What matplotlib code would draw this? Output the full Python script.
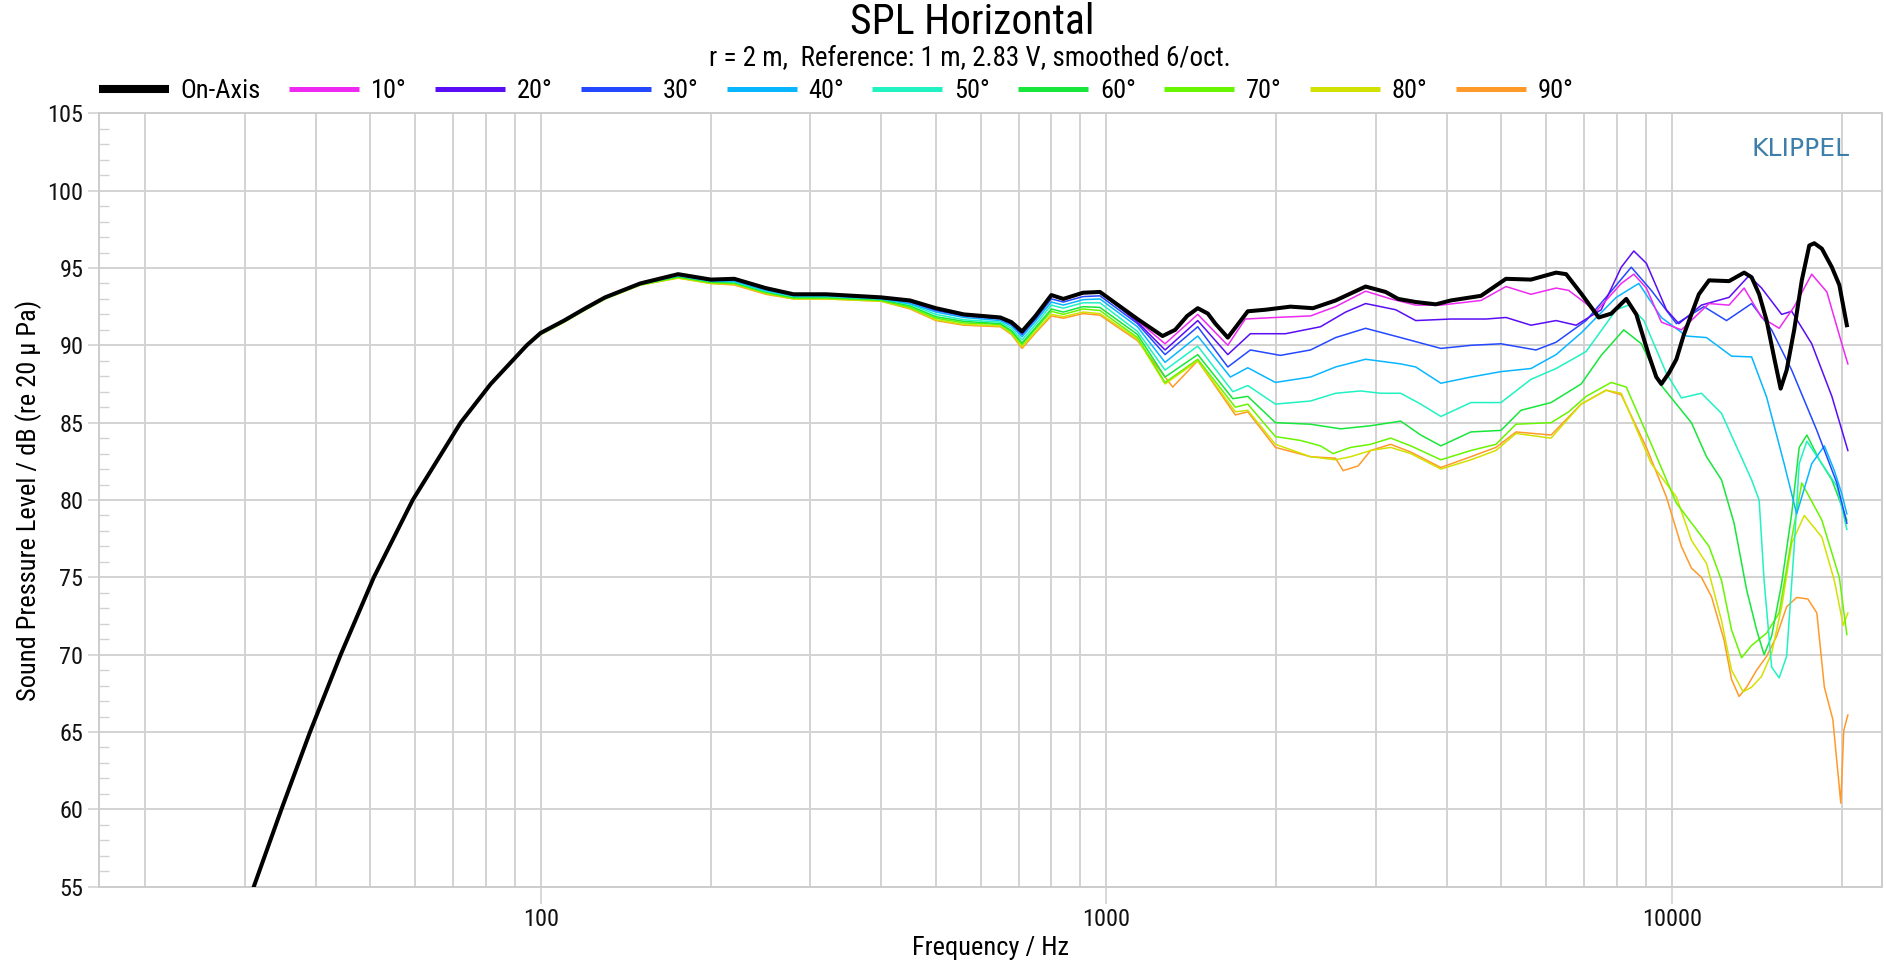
import matplotlib
matplotlib.use("Agg")
import matplotlib.pyplot as plt
from matplotlib.lines import Line2D
from matplotlib.ticker import FixedLocator, NullFormatter, FixedFormatter

FONT = ['Roboto Condensed', 'Liberation Sans', 'DejaVu Sans']
plt.rcParams['font.family'] = FONT

# ---------------- data ----------------
labels = ["On-Axis", "10°", "20°", "30°", "40°", "50°", "60°", "70°", "80°", "90°"]
colors = ["#000000", "#ee2af2", "#5a0cf5", "#2448ff", "#08b6ff", "#20f2c2",
          "#18e63a", "#68f500", "#d2e200", "#ff9a2a"]

# below 100 Hz all angles coincide
f_lf = [28, 31.1, 34.8, 39.1, 44.3, 50.7, 59.4, 72.2, 81.6, 94.5]
db_lf = [49.5, 55.0, 60.0, 65.0, 70.0, 75.0, 80.0, 85.0, 87.5, 90.0]

f_mid = [100, 110, 120, 130, 150, 175, 200, 220, 250, 280, 320, 400, 450, 500, 560, 650, 680,
         710, 750, 800, 840, 910, 975]
db_mid_0 = [90.8, 91.6, 92.4, 93.1, 94.0, 94.6, 94.25, 94.3, 93.7, 93.3, 93.3, 93.1, 92.9, 92.4,
            92.0, 91.8, 91.5, 90.9, 91.9, 93.25, 93.0, 93.4, 93.45]
db_mid_10 = [90.8, 91.6, 92.4, 93.1, 94.0, 94.55, 94.2, 94.25, 93.7, 93.3, 93.3, 93.1, 92.9, 92.4,
             92.0, 91.8, 91.5, 90.9, 91.9, 93.2, 93.0, 93.35, 93.4]
db_mid_20 = [90.8, 91.6, 92.4, 93.1, 94.0, 94.55, 94.2, 94.3, 93.7, 93.3, 93.3, 93.1, 92.85, 92.35,
             91.95, 91.75, 91.45, 90.85, 91.85, 93.2, 92.95, 93.4, 93.45]
db_mid_30 = [90.8, 91.6, 92.4, 93.1, 94.0, 94.55, 94.2, 94.25, 93.65, 93.25, 93.25, 93.05, 92.8,
             92.25, 91.9, 91.7, 91.35, 90.7, 91.7, 93.0, 92.8, 93.15, 93.2]
db_mid_40 = [90.75, 91.55, 92.35, 93.05, 93.95, 94.5, 94.15, 94.15, 93.55, 93.2, 93.2, 93.0, 92.7,
             92.15, 91.8, 91.6, 91.25, 90.55, 91.55, 92.8, 92.6, 92.95, 93.0]
db_mid_50 = [90.75, 91.55, 92.35, 93.05, 93.95, 94.5, 94.15, 94.1, 93.5, 93.15, 93.15, 93.0, 92.65,
             92.0, 91.65, 91.5, 91.1, 90.35, 91.35, 92.6, 92.4, 92.75, 92.75]
db_mid_60 = [90.75, 91.55, 92.35, 93.05, 93.95, 94.45, 94.1, 94.05, 93.45, 93.1, 93.1, 92.95, 92.55,
             91.85, 91.55, 91.4, 90.95, 90.15, 91.15, 92.35, 92.15, 92.5, 92.45]
db_mid_70 = [90.7, 91.5, 92.3, 93.0, 93.9, 94.4, 94.05, 94.0, 93.4, 93.05, 93.05, 92.9, 92.45,
             91.75, 91.45, 91.35, 90.85, 90.05, 91.05, 92.2, 92.0, 92.35, 92.25]
db_mid_80 = [90.7, 91.5, 92.3, 93.0, 93.9, 94.35, 94.0, 93.95, 93.35, 93.0, 93.0, 92.85, 92.4,
             91.65, 91.35, 91.25, 90.75, 89.9, 90.9, 92.0, 91.85, 92.15, 92.05]
db_mid_90 = [90.7, 91.5, 92.3, 93.0, 93.9, 94.35, 94.0, 93.9, 93.3, 93.0, 93.0, 92.85, 92.35,
             91.6, 91.3, 91.2, 90.7, 89.8, 90.8, 91.9, 91.75, 92.05, 91.95]

f_hf_0 = [1136, 1258, 1324, 1391, 1452, 1513, 1560, 1641, 1780, 1912, 2117, 2321, 2545, 2876, 3120,
          3284, 3527, 3828, 4069, 4600, 5093, 5639, 6246, 6507, 6917, 7429, 7818, 8312, 8659,
          9114, 9393, 9588, 9885, 10194, 10510, 10836, 11170, 11642, 12631, 13432, 13847, 14277,
          14720, 15177, 15584, 15970, 16468, 16985, 17510, 17870, 18430, 19198, 19790, 20405]
db_hf_0 = [91.7, 90.6, 91.0, 91.9, 92.4, 92.05, 91.4, 90.5, 92.2, 92.3, 92.5, 92.4, 92.9, 93.8, 93.45,
           93.0, 92.8, 92.65, 92.9, 93.2, 94.3, 94.25, 94.7, 94.6, 93.35, 91.8, 92.05, 93.0, 92.0,
           89.35, 87.95, 87.5, 88.2, 89.1, 90.7, 92.0, 93.3, 94.2, 94.15, 94.7, 94.4, 93.3,
           91.6, 89.2, 87.2, 88.4, 91.0, 94.2, 96.45, 96.6, 96.25, 95.05, 93.9, 91.3]

f_hf_10 = [1136, 1271, 1452, 1641, 1762, 1992, 2298, 2545, 2876, 3185, 3527, 3907, 4600, 5093, 5639,
           6246, 6574, 7354, 8144, 8571, 9021, 9588, 10404, 11642, 12631, 13432, 14421, 15490,
           16468, 17687, 18810, 19991, 20490]
db_hf_10 = [91.6, 90.1, 92.0, 90.0, 91.7, 91.8, 91.9, 92.5, 93.5, 93.0, 92.6, 92.6, 92.9, 93.8, 93.3,
            93.7, 93.55, 92.2, 94.0, 94.6, 93.7, 91.5, 91.0, 92.7, 92.6, 93.7, 91.8, 91.1,
            92.5, 94.6, 93.45, 90.1, 88.8]

f_hf_20 = [1136, 1271, 1452, 1641, 1799, 2075, 2393, 2651, 2876, 3251, 3527, 4069, 4695, 5093, 5639,
           6246, 6777, 7505, 8144, 8571, 9021, 9786, 10296, 11288, 12631, 13700, 14421, 15649,
           16300, 17687, 19198, 20490]
db_hf_20 = [91.5, 89.7, 91.6, 89.4, 90.75, 90.75, 91.2, 92.15, 92.7, 92.3, 91.6, 91.7, 91.7, 91.8,
            91.3, 91.6, 91.3, 92.3, 95.05, 96.1, 95.3, 92.3, 91.4, 92.6, 93.1, 94.5, 93.7, 92.0,
            92.2, 90.1, 86.7, 83.2]

f_hf_30 = [1136, 1271, 1452, 1641, 1799, 2033, 2298, 2545, 2876, 3317, 3907, 4416, 4990, 5755, 6246,
           7059, 7818, 8483, 9205, 10194, 11404, 12502, 13847, 15023, 16300, 18057, 19590, 20405]
db_hf_30 = [91.4, 89.4, 91.2, 88.6, 89.7, 89.35, 89.7, 90.5, 91.1, 90.5, 89.8, 90.0, 90.1, 89.7,
            90.2, 91.6, 93.5, 95.05, 93.55, 91.4, 92.5, 91.6, 92.7, 91.0, 88.4, 84.5, 81.1, 78.5]

f_hf_40 = [1136, 1271, 1452, 1658, 1780, 1992, 2298, 2545, 2876, 3317, 3527, 3907, 4416, 4990, 5639,
           6246, 6917, 7979, 8748, 9588, 10618, 11523, 12761, 13847, 14720, 15806, 16636, 17687,
           18620, 19391, 19991, 20405]
db_hf_40 = [91.2, 88.9, 90.6, 87.95, 88.55, 87.6, 87.95, 88.6, 89.1, 88.8, 88.6, 87.55, 87.95, 88.3,
            88.5, 89.4, 90.8, 93.1, 94.0, 91.8, 90.6, 90.5, 89.3, 89.25, 86.65, 82.35, 79.1, 82.35,
            83.5, 81.9, 80.4, 79.1]

f_hf_50 = [1136, 1271, 1452, 1675, 1780, 1992, 2298, 2545, 2818, 3057, 3317, 3600, 3907, 4416, 4990,
           5639, 6246, 7059, 7979, 8397, 8930, 9786, 10404, 11288, 12250, 13847, 14277, 14569,
           15023, 15490, 15970, 16468, 16806, 17340, 18430, 19590, 20405]
db_hf_50 = [90.9, 88.4, 89.95, 87.0, 87.4, 86.2, 86.4, 86.9, 87.05, 86.9, 86.9, 86.2, 85.4, 86.3,
            86.3, 87.8, 88.5, 89.6, 92.3, 92.6, 91.6, 88.2, 86.6, 86.9, 85.6, 81.3, 80.0, 74.8,
            69.2, 68.5, 69.9, 77.0, 82.35, 83.8, 82.35, 80.9, 78.1]

f_hf_60 = [1136, 1271, 1452, 1675, 1780, 1992, 2298, 2598, 2935, 3317, 3600, 3907, 4416, 4990, 5414,
           6120, 6917, 7505, 8227, 8839, 9588, 10836, 11523, 12250, 12892, 13567, 14132, 14569,
           15023, 15649, 16300, 16806, 17340, 18243, 19198, 19991, 20405]
db_hf_60 = [90.7, 87.95, 89.4, 86.55, 86.7, 85.0, 84.9, 84.6, 84.8, 85.1, 84.2, 83.5, 84.4, 84.5,
            85.8, 86.3, 87.5, 89.35, 91.0, 90.1, 87.4, 85.0, 82.8, 81.3, 78.5, 74.2, 71.6, 70.0,
            71.2, 74.6, 79.1, 83.4, 84.2, 82.6, 81.3, 79.6, 78.7]

f_hf_70 = [1136, 1271, 1452, 1692, 1780, 1992, 2206, 2393, 2519, 2706, 2935, 3185, 3456, 3907, 4416,
           4889, 5305, 6120, 6574, 7059, 7818, 8312, 9205, 10194, 11057, 11642, 12250, 12761,
           13292, 13847, 14720, 15490, 16300, 16985, 18430, 19790, 20405]
db_hf_70 = [90.5, 87.6, 89.1, 86.0, 86.2, 84.1, 83.85, 83.5, 83.0, 83.4, 83.6, 84.0, 83.5, 82.6,
            83.2, 83.6, 84.9, 85.0, 85.7, 86.7, 87.6, 87.3, 83.6, 79.8, 78.1, 77.0, 74.8, 71.6,
            69.8, 70.6, 71.4, 72.7, 77.5, 81.1, 78.7, 75.0, 71.3]

f_hf_80 = [1136, 1271, 1452, 1692, 1780, 1992, 2298, 2545, 2706, 2935, 3185, 3456, 3907, 4416, 4889,
           5305, 6120, 6917, 7660, 8144, 9205, 10194, 10836, 11523, 12250, 12761, 13375, 13847,
           14421, 15023, 15649, 16300, 17159, 18430, 19391, 20110, 20490]
db_hf_80 = [90.4, 87.5, 89.0, 85.7, 85.8, 83.6, 82.8, 82.6, 82.8, 83.2, 83.4, 83.0, 82.0, 82.6,
            83.2, 84.3, 84.0, 86.2, 87.1, 86.9, 82.35, 80.2, 77.4, 75.9, 72.2, 69.0, 67.6, 67.9,
            68.6, 70.1, 73.1, 77.2, 79.0, 77.6, 74.8, 71.9, 72.7]

f_hf_90 = [1136, 1311, 1452, 1692, 1780, 1992, 2298, 2545, 2624, 2790, 2935, 3185, 3456, 3907, 4416,
           4889, 5305, 6120, 6917, 7660, 8144, 9021, 9786, 10404, 10836, 11288, 11760, 12376,
           12761, 13157, 13567, 14132, 14720, 15332, 15970, 16636, 17410, 18057, 18620, 19276,
           19910, 20150, 20490]
db_hf_90 = [90.3, 87.3, 89.0, 85.5, 85.7, 83.4, 82.8, 82.7, 81.9, 82.2, 83.2, 83.6, 83.1, 82.1,
            82.8, 83.4, 84.4, 84.2, 86.2, 87.1, 86.8, 83.4, 80.2, 77.0, 75.6, 75.0, 73.75, 70.95,
            68.4, 67.3, 67.9, 69.0, 69.9, 71.2, 73.1, 73.7, 73.6, 72.7, 67.9, 65.8, 60.4, 65.1,
            66.1]

db_mid = [db_mid_0, db_mid_10, db_mid_20, db_mid_30, db_mid_40, db_mid_50, db_mid_60, db_mid_70,
          db_mid_80, db_mid_90]
f_hf = [f_hf_0, f_hf_10, f_hf_20, f_hf_30, f_hf_40, f_hf_50, f_hf_60, f_hf_70, f_hf_80, f_hf_90]
db_hf = [db_hf_0, db_hf_10, db_hf_20, db_hf_30, db_hf_40, db_hf_50, db_hf_60, db_hf_70, db_hf_80,
         db_hf_90]

x_major = [100, 1000, 10000]
x_major_labels = ["100", "1000", "10000"]
x_minor = [20, 30, 40, 50, 60, 70, 80, 90, 200, 300, 400, 500, 600, 700, 800, 900,
           2000, 3000, 4000, 5000, 6000, 7000, 8000, 9000, 20000]
y_major = list(range(55, 106, 5))
y_minor = list(range(55, 106, 1))

# ---------------- figure ----------------
W, H = 1886, 961
fig = plt.figure(figsize=(W / 100, H / 100), dpi=100)
L, R, T, B = 99.3, 1882, 113.3, 886.7
ax = fig.add_axes([L / W, 1 - B / H, (R - L) / W, (B - T) / H])
ax.set_xscale('log')
ax.set_xlim(16.58, 23545)
ax.set_ylim(55, 105)

GRID = '#d2d2d2'
ax.xaxis.set_major_locator(FixedLocator(x_major))
ax.xaxis.set_major_formatter(FixedFormatter(x_major_labels))
ax.xaxis.set_minor_locator(FixedLocator(x_minor))
ax.xaxis.set_minor_formatter(NullFormatter())
ax.yaxis.set_major_locator(FixedLocator(y_major))
ax.yaxis.set_minor_locator(FixedLocator(y_minor))

ax.grid(True, which='major', axis='both', color=GRID, lw=1.4)
ax.grid(True, which='minor', axis='x', color=GRID, lw=1.4)
ax.tick_params(axis='x', which='major', length=12, width=1.2, color=GRID, pad=3,
               labelsize=17.5, labelcolor='#111111')
ax.tick_params(axis='x', which='minor', length=0)
ax.tick_params(axis='y', which='major', length=8, width=1.2, color=GRID, pad=3.5,
               labelsize=17.5, labelcolor='#111111', direction='out')
ax.tick_params(axis='y', which='minor', length=7, width=1.0, color=GRID, direction='in')
for s in ax.spines.values():
    s.set_color('#cccccc')
    s.set_linewidth(1.4)
ax.set_axisbelow(True)

# draw curves: 90° first, on-axis last
for i in range(len(labels) - 1, -1, -1):
    fx = f_lf + f_mid + f_hf[i]
    fy = db_lf + db_mid[i] + db_hf[i]
    lw = 2.9 if i == 0 else 1.1
    ax.plot(fx, fy, color=colors[i], lw=lw, solid_joinstyle='round', zorder=3 + (10 - i))

ax.set_xlabel("Frequency / Hz", fontsize=19, labelpad=4)
ax.set_ylabel("Sound Pressure Level / dB (re 20 µ Pa)", fontsize=19, labelpad=4)

ax.text(0.982, 0.954, "KLIPPEL", transform=ax.transAxes, ha='right', va='center',
        fontsize=18, color='#3d7eaa', family=['DejaVu Sans'])

fig.text(0.5155, 1 - 22 / H, "SPL Horizontal", ha='center', va='center', fontsize=30)
fig.text(0.5145, 1 - 59 / H, "r = 2 m,  Reference: 1 m, 2.83 V, smoothed 6/oct.",
         ha='center', va='center', fontsize=19.5)

handles = [Line2D([], [], color=c, lw=(5.8 if i == 0 else 3.6), solid_capstyle='butt')
           for i, c in enumerate(colors)]
fig.legend(handles, labels, loc='center left', bbox_to_anchor=(99 / W, 1 - 91 / H),
           ncol=10, frameon=False, fontsize=19, handlelength=2.65, handletextpad=0.45,
           columnspacing=1.07, borderpad=0, borderaxespad=0)

fig.savefig("out.png", dpi=100)
